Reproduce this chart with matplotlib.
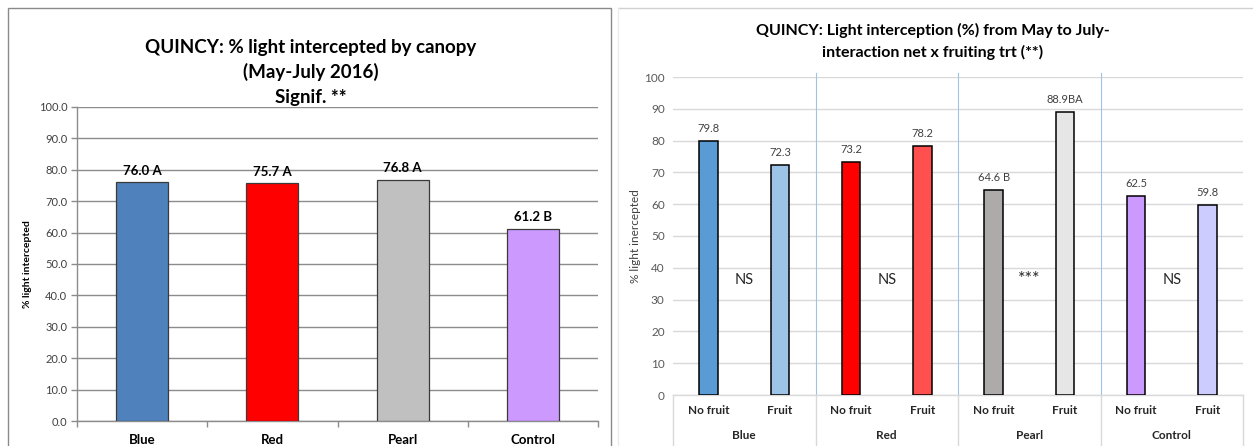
#!/usr/bin/env python3
import matplotlib
matplotlib.use("Agg")
import matplotlib.pyplot as plt
from matplotlib.lines import Line2D
from matplotlib.patches import Rectangle
from matplotlib.transforms import blended_transform_factory

plt.rcParams['font.family'] = ['Lato', 'DejaVu Sans']

# 左圖：各網色的平均值
nets = ['Blue', 'Red', 'Pearl', 'Control']
net_means = [76.0, 75.7, 76.8, 61.2]
net_letters = ['A', 'A', 'A', 'B']
net_colors = ['#4F81BD', '#FF0000', '#C0C0C0', '#CC99FF']

# 右圖：網色 x 結果處理
fruit_trt = ['No fruit', 'Fruit']
trt_means = [79.8, 72.3, 73.2, 78.2, 64.6, 88.9, 62.5, 59.8]
trt_letters = ['', '', '', '', ' B', 'BA', '', '']
trt_colors = ['#5B9BD5', '#9DC3E6', '#FF0000', '#FF4F4F',
              '#AEAAAA', '#E7E6E6', '#CC99FF', '#CCCCFF']
net_signif = ['NS', 'NS', '***', 'NS']

W, H = 1253, 446


def px_axes(fig, x0, x1, ytop, ybot):
    """Create axes from pixel edges (origin at top-left)."""
    return fig.add_axes([x0 / W, (H - ybot) / H, (x1 - x0) / W, (ybot - ytop) / H])


fig = plt.figure(figsize=(W / 100, H / 100), dpi=100)
fig.patch.set_facecolor('white')

# 外框
fig.add_artist(Rectangle((8 / W, -0.05), (611 - 8) / W, (H - 8) / H + 0.05,
                         transform=fig.transFigure, fill=False,
                         edgecolor='#8a8a8a', lw=1.0))
fig.add_artist(Line2D([618 / W, 1.0], [(H - 8) / H] * 2, transform=fig.transFigure,
                      color='#d0d0d0', lw=1.0))
fig.add_artist(Line2D([618 / W] * 2, [0, (H - 8) / H], transform=fig.transFigure,
                      color='#ececec', lw=1.0))

# ---------------- 左圖 ----------------
ax1 = px_axes(fig, 77, 598, 107, 421)
x1 = list(range(len(nets)))
ax1.bar(x1, net_means, width=0.4, color=net_colors, edgecolor='#3a3a3a', lw=0.9, zorder=3)
ax1.set_xlim(-0.5, len(nets) - 0.5)
ax1.set_ylim(0, 100)
ax1.set_yticks(range(0, 101, 10))
ax1.set_yticklabels([f"{v:.1f}" for v in range(0, 101, 10)])
ax1.yaxis.grid(True, color='#8c8c8c', lw=1.0, zorder=0)
ax1.set_axisbelow(True)
for s in ['top', 'right']:
    ax1.spines[s].set_visible(False)
for s in ['left', 'bottom']:
    ax1.spines[s].set_color('#8c8c8c')
    ax1.spines[s].set_linewidth(1.0)
ax1.tick_params(axis='y', direction='out', length=4, width=1.0, color='#8c8c8c',
                labelsize=8, labelcolor='#404040', pad=3)
ax1.set_xticks(x1)
ax1.set_xticklabels(nets, fontsize=9.5, fontweight='bold')
ax1.tick_params(axis='x', length=0, pad=9)
ax1.set_xticks([i - 0.5 for i in range(len(nets) + 1)], minor=True)
ax1.tick_params(axis='x', which='minor', direction='out', length=4, width=1.0, color='#8c8c8c')
ax1.set_ylabel('% light intercepted', fontsize=7.5, fontweight='bold', labelpad=5)
for i, (v, lt) in enumerate(zip(net_means, net_letters)):
    ax1.annotate(f"{v:.1f} {lt}", (i, v), xytext=(0, 4), textcoords='offset points',
                 ha='center', va='bottom', fontsize=9.5, fontweight='bold')

title_left = ['QUINCY: % light intercepted by canopy', '(May-July 2016)', 'Signif. **']
for k, line in enumerate(title_left):
    fig.text(311 / W, (H - (47 + 25 * k)) / H, line, ha='center', va='center',
             fontsize=13.5, fontweight='bold')

# ---------------- 右圖 ----------------
ax2 = px_axes(fig, 673, 1243, 77, 395)
x2 = list(range(len(trt_means)))
ax2.bar(x2, trt_means, width=0.26, color=trt_colors, edgecolor='black', lw=1.1, zorder=3)
ax2.set_xlim(-0.5, len(trt_means) - 0.5)
ax2.set_ylim(0, 100)
ax2.set_yticks(range(0, 101, 10))
ax2.yaxis.grid(True, color='#d9d9d9', lw=1.0, zorder=0)
ax2.set_axisbelow(True)
for s in ['top', 'right', 'left']:
    ax2.spines[s].set_visible(False)
ax2.spines['bottom'].set_color('#d9d9d9')
ax2.spines['bottom'].set_linewidth(1.0)
ax2.tick_params(axis='y', length=0, labelsize=8.5, labelcolor='#595959', pad=6)
ax2.set_xticks([])
ax2.set_ylabel('% light inercepted', fontsize=8.5, color='#404040', labelpad=2)

for i, (v, lt) in enumerate(zip(trt_means, trt_letters)):
    ax2.annotate(f"{v:.1f}{lt}", (i, v), xytext=(0, 5), textcoords='offset points',
                 ha='center', va='bottom', fontsize=8, color='#404040')

# 兩層分類標籤
trans = blended_transform_factory(ax2.transData, ax2.transAxes)
n_grp = len(nets)
n_sub = len(fruit_trt)
for i in x2:
    ax2.text(i, -0.05, fruit_trt[i % n_sub], transform=trans, ha='center', va='center',
             fontsize=8.5, fontweight='bold', color='#262626')
for g in range(n_grp):
    cx = g * n_sub + (n_sub - 1) / 2
    ax2.text(cx, -0.128, nets[g], transform=trans, ha='center', va='center',
             fontsize=8.5, fontweight='bold', color='#262626')
    size = 13 if net_signif[g] == '***' else 10.5
    ax2.text(cx, 35, net_signif[g], ha='center', va='baseline', fontsize=size,
             color='#262626')
for g in range(n_grp + 1):
    xb = g * n_sub - 0.5
    ax2.plot([xb, xb], [0, -0.2], transform=trans, color='#d9d9d9', lw=1.0, clip_on=False)
    if 0 < g < n_grp:
        ax2.plot([xb, xb], [0, 101.3], color='#9DC3E6', lw=0.8, clip_on=False, zorder=2)

fig.text(933 / W, (H - 30) / H, 'QUINCY: Light interception (%) from May to July-',
         ha='center', va='center', fontsize=11.5, fontweight='bold')
fig.text(933 / W, (H - 52) / H, 'interaction net x fruiting trt (**)',
         ha='center', va='center', fontsize=11.5, fontweight='bold')

fig.savefig('out.png', dpi=100)
